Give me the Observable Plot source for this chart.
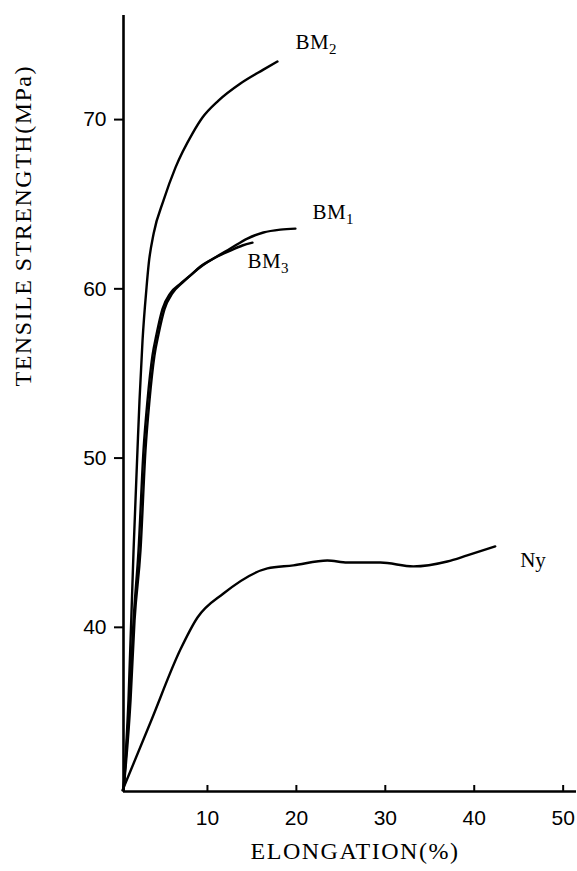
<!DOCTYPE html>
<html>
<head>
<meta charset="utf-8">
<script src="https://cdn.jsdelivr.net/npm/d3@7"></script>
<script src="https://cdn.jsdelivr.net/npm/@observablehq/plot@0.6"></script>
<style>
  html, body { margin: 0; padding: 0; background: #fff; }
  #chart svg { display: block; }
</style>
</head>
<body>
<div id="chart"></div>
<script>
// Elongation (%) and tensile strength (MPa)
const bm2X = [0.56, 1.12, 1.69, 2.13, 2.36, 2.70, 3.15, 3.40, 3.95, 5.06, 6.40, 8.31, 9.44, 11.24, 13.71, 16.29, 17.87];
const bm2Y = [30.37, 35.68, 44.54, 50.45, 53.40, 56.95, 60.08, 61.50, 63.27, 65.22, 67.16, 69.17, 70.12, 71.12, 72.13, 72.95, 73.43];

const bm1X = [0.56, 1.24, 1.69, 2.25, 2.81, 3.26, 3.82, 4.27, 4.94, 5.84, 6.97, 8.09, 9.21, 10.67, 12.58, 14.49, 16.29, 18.20, 19.89];
const bm1Y = [30.37, 35.68, 40.41, 44.54, 50.45, 53.40, 56.06, 57.30, 58.80, 59.75, 60.31, 60.79, 61.32, 61.79, 62.38, 62.97, 63.33, 63.50, 63.56];

const bm3X = [0.56, 1.35, 1.80, 2.47, 3.03, 3.48, 4.04, 4.49, 5.17, 6.07, 7.19, 8.31, 9.44, 10.90, 12.58, 13.93, 15.06];
const bm3Y = [30.37, 35.68, 40.41, 44.54, 50.45, 53.40, 56.06, 57.30, 58.80, 59.75, 60.37, 60.90, 61.38, 61.85, 62.26, 62.56, 62.73];

const nyX = [0.45, 3.60, 6.97, 8.88, 11.80, 16.74, 19.66, 23.48, 25.73, 29.44, 33.15, 36.97, 39.21, 42.36];
const nyY = [30.37, 34.39, 38.70, 40.58, 42.00, 43.48, 43.66, 43.95, 43.83, 43.83, 43.60, 43.89, 44.25, 44.78];

const seriesNames = ["BM2", "BM1", "BM3", "Ny"];
const labelX = [19.89, 21.80, 14.49, 45.17];
const labelY = [74.55, 64.51, 61.61, 43.95];

const xTicks = [10, 20, 30, 40, 50];
const yTicks = [40, 50, 60, 70];
const xTitle = "ELONGATION(%)";
const yTitle = "TENSILE STRENGTH(MPa)";

const xDomain = [0.56, 51.5];
const yDomain = [30.3, 76.15];

// Build long-format table
const curves = [[bm2X, bm2Y], [bm1X, bm1Y], [bm3X, bm3Y], [nyX, nyY]];
const rows = [];
curves.forEach(([xs, ys], i) => xs.forEach((x, j) => rows.push({series: seriesNames[i], x, y: ys[j]})));
const labels = seriesNames.map((s, i) => ({series: s, x: labelX[i], y: labelY[i]}));

const W = 577, H = 871;
const mT = 15, mB = 80, mL = 123, mR = 1;

const plot = Plot.plot({
  width: W,
  height: H,
  marginTop: mT,
  marginBottom: mB,
  marginLeft: mL,
  marginRight: mR,
  x: {domain: xDomain},
  y: {domain: yDomain},
  style: {background: "#fff", color: "#000"},
  marks: [
    Plot.axisY({ticks: yTicks, tickSize: 9, tickPadding: 8, stroke: "#000", strokeWidth: 2,
      fontSize: 21, fontFamily: "Liberation Sans, sans-serif", label: null, tickFormat: d => String(d)}),
    Plot.axisX({ticks: xTicks, tickSize: 0, tickPadding: 19,
      fontSize: 21, fontFamily: "Liberation Sans, sans-serif", label: null, tickFormat: d => String(d)}),
    Plot.tickX(xTicks, {x: d => d, insetTop: H - mT - mB - 6, stroke: "#000", strokeWidth: 2}),
    Plot.ruleX([xDomain[0]], {stroke: "#000", strokeWidth: 2.6}),
    Plot.ruleY([yDomain[0]], {stroke: "#000", strokeWidth: 2.6}),
    Plot.line(rows, {x: "x", y: "y", z: "series", stroke: "#000", strokeWidth: 2.4, curve: "monotone-x"}),
    Plot.text(labels, {x: "x", y: "y", text: "series", textAnchor: "start", fontSize: 21,
      fontFamily: "Liberation Serif, serif", fill: "#000"}),
    Plot.text([xTitle], {frameAnchor: "bottom", dy: 67, dx: 5, fontSize: 24,
      fontFamily: "Liberation Serif, serif", fill: "#000"}),
    Plot.text([yTitle], {frameAnchor: "left", dx: -100, dy: -17, rotate: -90, fontSize: 24,
      fontFamily: "Liberation Serif, serif", fill: "#000"})
  ]
});

// subscripts on BM labels, letter spacing on titles
const ns = "http://www.w3.org/2000/svg";
plot.querySelectorAll("text").forEach(t => {
  const m = t.textContent.match(/^BM(\d)$/);
  if (m) {
    t.textContent = "BM";
    const ts = document.createElementNS(ns, "tspan");
    ts.setAttribute("dy", "0.32em");
    ts.setAttribute("font-size", "15");
    ts.textContent = m[1];
    t.appendChild(ts);
    t.setAttribute("letter-spacing", "0.5");
  }
  if (t.textContent === xTitle || t.textContent === yTitle) {
    t.setAttribute("letter-spacing", "1.5");
  }
});
document.getElementById("chart").appendChild(plot);
</script>
</body>
</html>
